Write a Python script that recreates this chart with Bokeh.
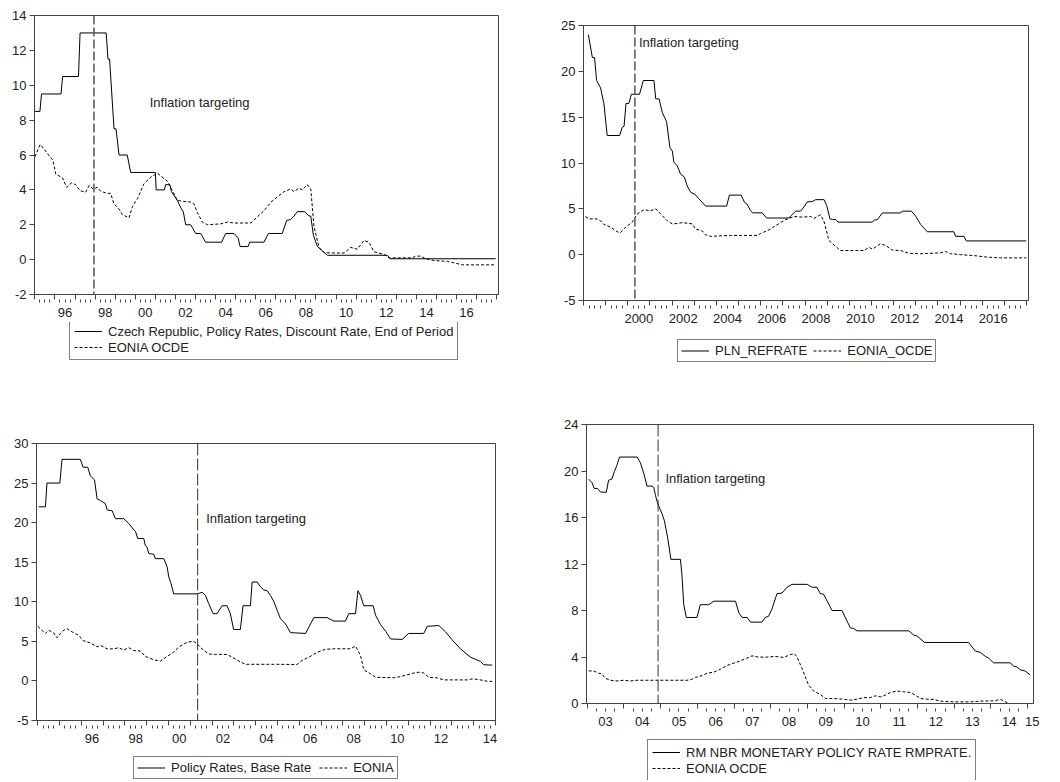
from bokeh.plotting import figure
from bokeh.models import Range1d, FixedTicker, LinearAxis, Span, Label, Legend, LegendItem
from bokeh.layouts import column, row
from bokeh.embed import file_html
from bokeh.resources import INLINE

FONT = "Liberation Sans"
TXT = "#222222"
FRAME = "#444444"

# ---------------- data (decimal year, percent) ----------------
czech_rate = [(1995.0, 8.5), (1995.25, 8.5), (1995.33, 9.5), (1996.30, 9.5), (1996.38, 10.5),
              (1997.17, 10.5), (1997.25, 13.0), (1998.55, 13.0), (1998.64, 11.5), (1998.72, 11.5),
              (1998.94, 7.5), (1999.04, 7.5), (1999.19, 6.0), (1999.60, 6.0), (1999.77, 5.0),
              (2001.0, 5.0), (2001.04, 4.0), (2001.45, 4.0), (2001.51, 4.3), (2001.72, 4.3),
              (2001.80, 3.9), (2002.09, 3.4), (2002.30, 2.9), (2002.39, 2.75), (2002.51, 2.0),
              (2002.76, 2.0), (2003.01, 1.5), (2003.26, 1.5), (2003.50, 1.0), (2004.30, 1.0),
              (2004.50, 1.5), (2004.92, 1.5), (2005.12, 1.25), (2005.22, 0.75), (2005.62, 0.75),
              (2005.70, 1.0), (2006.41, 1.0), (2006.63, 1.5), (2007.32, 1.5), (2007.54, 2.25),
              (2007.74, 2.3), (2007.91, 2.5), (2008.07, 2.75), (2008.44, 2.75), (2008.65, 2.5),
              (2008.74, 2.5), (2008.87, 1.4), (2009.07, 0.75), (2009.32, 0.5), (2009.57, 0.25),
              (2012.56, 0.25), (2012.69, 0.05), (2017.95, 0.05)]
eonia_cz = [(1995.0, 5.9), (1995.26, 6.6), (1995.45, 6.35), (1995.70, 5.97), (1995.90, 5.7),
            (1996.04, 4.9), (1996.37, 4.7), (1996.58, 4.15), (1996.82, 4.4), (1997.03, 4.3),
            (1997.25, 3.95), (1997.53, 3.87), (1997.70, 4.25), (1997.91, 4.05), (1998.11, 4.15),
            (1998.28, 3.92), (1998.61, 3.8), (1998.77, 3.8), (1998.94, 3.2), (1999.19, 2.9),
            (1999.36, 2.57), (1999.69, 2.4), (1999.86, 3.05), (2000.11, 3.5), (2000.43, 4.35),
            (2000.77, 4.73), (2001.10, 4.96), (2001.27, 4.8), (2001.60, 4.5), (2001.76, 4.15),
            (2002.09, 3.4), (2002.34, 3.35), (2002.76, 3.3), (2002.92, 3.2), (2003.09, 2.7),
            (2003.34, 2.15), (2003.59, 2.0), (2004.25, 2.05), (2004.59, 2.15), (2004.92, 2.1),
            (2005.75, 2.1), (2006.08, 2.45), (2006.41, 2.8), (2006.76, 3.3), (2007.08, 3.6),
            (2007.41, 3.9), (2007.74, 4.05), (2007.91, 3.9), (2008.15, 4.1), (2008.32, 4.0),
            (2008.57, 4.3), (2008.74, 4.05), (2008.90, 1.9), (2009.15, 0.7), (2009.40, 0.4),
            (2009.90, 0.38), (2010.40, 0.38), (2010.73, 0.7), (2011.06, 0.6), (2011.39, 1.1),
            (2011.64, 1.0), (2011.89, 0.45), (2012.39, 0.3), (2012.64, 0.1), (2013.80, 0.1),
            (2013.96, 0.2), (2014.21, 0.2), (2014.46, 0.05), (2014.88, -0.05), (2015.54, -0.1),
            (2016.12, -0.25), (2016.29, -0.3), (2017.95, -0.3)]

pln_refrate = [(1998.22, 24.0), (1998.40, 21.5), (1998.50, 21.5), (1998.59, 19.0), (1998.77, 18.2),
               (1998.92, 16.5), (1999.07, 13.0), (1999.63, 13.0), (1999.75, 13.9), (1999.83, 14.0),
               (1999.92, 16.5), (2000.05, 16.5), (2000.16, 17.5), (2000.53, 17.5), (2000.70, 19.0),
               (2001.18, 19.0), (2001.26, 17.0), (2001.41, 17.0), (2001.56, 15.5), (2001.75, 14.5),
               (2001.90, 11.7), (2002.01, 11.3), (2002.08, 10.1), (2002.23, 9.7), (2002.38, 8.8),
               (2002.56, 8.45), (2002.68, 7.5), (2002.84, 6.8), (2003.02, 6.6), (2003.21, 6.1),
               (2003.51, 5.3), (2004.46, 5.3), (2004.59, 6.5), (2005.12, 6.5), (2005.27, 5.7),
               (2005.39, 5.5), (2005.54, 4.8), (2005.64, 4.56), (2006.06, 4.56), (2006.27, 4.0),
               (2007.27, 4.0), (2007.35, 4.2), (2007.58, 4.75), (2007.80, 4.75), (2007.95, 5.2),
               (2008.10, 5.76), (2008.33, 5.8), (2008.48, 6.0), (2008.86, 6.0), (2008.98, 5.36),
               (2009.13, 3.9), (2009.24, 3.84), (2009.39, 3.84), (2009.49, 3.55), (2011.04, 3.55),
               (2011.14, 3.8), (2011.26, 3.8), (2011.49, 4.55), (2012.32, 4.55), (2012.39, 4.75),
               (2012.80, 4.75), (2013.00, 4.2), (2013.22, 3.3), (2013.52, 2.5), (2014.72, 2.5),
               (2014.80, 2.0), (2015.18, 2.0), (2015.28, 1.5), (2017.99, 1.5)]
eonia_pl = [(1998.09, 4.16), (1998.25, 3.9), (1998.62, 3.9), (1998.77, 3.7), (1998.92, 3.3),
            (1999.22, 3.0), (1999.52, 2.5), (1999.67, 2.4), (1999.90, 3.0), (2000.20, 3.55),
            (2000.43, 4.45), (2000.73, 4.9), (2001.03, 4.8), (2001.26, 5.0), (2001.48, 4.45),
            (2001.78, 3.7), (2002.01, 3.36), (2002.23, 3.4), (2002.46, 3.5), (2002.91, 3.36),
            (2003.06, 2.8), (2003.36, 2.6), (2003.51, 2.16), (2003.74, 2.0), (2004.64, 2.1),
            (2005.84, 2.1), (2005.99, 2.3), (2006.37, 2.7), (2006.73, 3.25), (2007.11, 3.8),
            (2007.50, 4.16), (2007.88, 4.1), (2008.25, 4.16), (2008.40, 3.95), (2008.70, 4.35),
            (2008.85, 3.7), (2009.08, 1.55), (2009.38, 0.9), (2009.61, 0.45), (2010.66, 0.45),
            (2010.89, 0.8), (2011.04, 0.6), (2011.41, 1.2), (2011.64, 1.0), (2011.94, 0.5),
            (2012.32, 0.45), (2012.69, 0.15), (2013.22, 0.1), (2014.12, 0.2), (2014.35, 0.35),
            (2014.57, 0.1), (2015.02, 0.0), (2015.63, -0.1), (2016.23, -0.27), (2016.83, -0.35),
            (2017.99, -0.35)]

hu_base_rate = [(1994.05, 22.0), (1994.36, 22.0), (1994.43, 25.0), (1995.02, 25.0), (1995.12, 28.0),
                (1995.96, 28.0), (1996.09, 27.0), (1996.30, 27.0), (1996.42, 25.9), (1996.61, 25.4),
                (1996.73, 23.0), (1996.88, 22.8), (1997.11, 22.4), (1997.19, 21.6), (1997.42, 21.5),
                (1997.57, 20.5), (1997.95, 20.5), (1998.18, 19.9), (1998.38, 19.2), (1998.49, 18.9),
                (1998.59, 18.0), (1998.87, 18.0), (1998.94, 17.1), (1999.02, 16.9), (1999.10, 16.1),
                (1999.33, 16.0), (1999.40, 15.45), (1999.79, 15.45), (1999.94, 14.4), (2000.02, 13.1),
                (2000.12, 12.3), (2000.24, 11.0), (2001.31, 11.0), (2001.44, 11.1), (2001.54, 11.2),
                (2001.70, 10.8), (2001.85, 9.75), (2002.05, 8.5), (2002.23, 8.5), (2002.46, 9.5),
                (2002.69, 9.5), (2002.84, 8.5), (2002.99, 6.5), (2003.30, 6.5), (2003.42, 9.5),
                (2003.76, 9.5), (2003.84, 12.5), (2004.07, 12.5), (2004.22, 11.9), (2004.37, 11.5),
                (2004.53, 11.4), (2004.68, 10.8), (2004.84, 10.0), (2004.99, 8.9), (2005.14, 7.85),
                (2005.37, 7.2), (2005.60, 6.1), (2006.29, 6.0), (2006.44, 6.8), (2006.67, 8.0),
                (2007.28, 8.0), (2007.43, 7.77), (2007.59, 7.56), (2008.12, 7.56), (2008.27, 8.5),
                (2008.58, 8.5), (2008.69, 11.4), (2008.81, 10.8), (2008.96, 9.5), (2009.39, 9.5),
                (2009.50, 8.3), (2009.73, 7.1), (2009.97, 6.25), (2010.19, 5.3), (2010.72, 5.25),
                (2011.02, 6.0), (2011.71, 6.0), (2011.87, 6.9), (2012.40, 7.0), (2012.71, 6.2),
                (2013.01, 5.2), (2013.39, 4.06), (2013.85, 3.0), (2014.31, 2.46), (2014.46, 2.04),
                (2014.85, 2.0)]
eonia_hu = [(1994.01, 6.9), (1994.20, 6.4), (1994.36, 6.0), (1994.51, 6.4), (1994.74, 6.05),
            (1994.89, 5.45), (1995.05, 6.0), (1995.20, 6.4), (1995.35, 6.6), (1995.58, 6.2),
            (1995.89, 5.75), (1996.09, 5.1), (1996.42, 4.8), (1996.73, 4.3), (1996.88, 4.5),
            (1997.19, 4.05), (1997.49, 4.05), (1997.72, 4.2), (1997.95, 3.9), (1998.18, 4.2),
            (1998.41, 3.84), (1998.72, 3.77), (1998.94, 3.1), (1999.33, 2.67), (1999.63, 2.5),
            (1999.94, 3.1), (2000.24, 3.64), (2000.47, 4.27), (2000.86, 4.9), (2001.16, 5.0),
            (2001.31, 4.7), (2001.54, 4.05), (2001.85, 3.4), (2002.16, 3.35), (2002.69, 3.35),
            (2002.92, 3.0), (2003.30, 2.4), (2003.53, 2.1), (2004.53, 2.1), (2004.99, 2.1),
            (2005.60, 2.08), (2005.90, 2.08), (2006.13, 2.6), (2006.44, 3.0), (2006.82, 3.6),
            (2007.20, 4.0), (2007.59, 4.06), (2008.05, 4.06), (2008.35, 4.06), (2008.58, 4.4),
            (2008.81, 3.2), (2008.96, 1.4), (2009.27, 0.9), (2009.50, 0.46), (2010.34, 0.4),
            (2010.64, 0.55), (2010.87, 0.7), (2011.25, 1.0), (2011.48, 1.1), (2011.71, 1.0),
            (2011.94, 0.46), (2012.33, 0.38), (2012.63, 0.13), (2013.70, 0.13), (2013.93, 0.25),
            (2014.16, 0.2), (2014.47, 0.05), (2014.62, -0.05), (2014.85, -0.05)]

ro_rmprate = [(2003.04, 19.3), (2003.13, 19.0), (2003.19, 18.5), (2003.28, 18.5), (2003.36, 18.2),
              (2003.52, 18.16), (2003.58, 19.2), (2003.67, 19.3), (2003.74, 19.95), (2003.81, 20.5),
              (2003.88, 21.2), (2004.36, 21.2), (2004.45, 20.7), (2004.54, 19.8), (2004.63, 18.7),
              (2004.76, 18.7), (2004.81, 18.6), (2004.86, 17.9), (2004.92, 17.2), (2005.04, 16.3),
              (2005.10, 15.75), (2005.19, 14.3), (2005.28, 12.4), (2005.54, 12.4), (2005.58, 11.1),
              (2005.63, 8.5), (2005.70, 7.4), (2005.99, 7.4), (2006.08, 8.5), (2006.31, 8.5),
              (2006.45, 8.8), (2007.04, 8.8), (2007.13, 7.8), (2007.22, 7.4), (2007.36, 7.4),
              (2007.45, 7.0), (2007.76, 7.0), (2007.85, 7.4), (2007.94, 7.5), (2008.03, 8.1),
              (2008.17, 9.45), (2008.31, 9.5), (2008.44, 10.0), (2008.58, 10.25), (2008.99, 10.25),
              (2009.13, 10.0), (2009.26, 10.0), (2009.35, 9.45), (2009.44, 9.4), (2009.67, 8.0),
              (2009.94, 8.0), (2010.17, 6.5), (2010.26, 6.45), (2010.35, 6.25), (2011.76, 6.25),
              (2011.89, 5.9), (2011.99, 5.8), (2012.19, 5.25), (2013.39, 5.25), (2013.58, 4.5),
              (2013.71, 4.4), (2013.85, 4.05), (2013.94, 3.9), (2014.07, 3.5), (2014.53, 3.5),
              (2014.62, 3.2), (2014.71, 3.15), (2014.80, 2.9), (2014.93, 2.8), (2015.07, 2.46)]
eonia_ro = [(2003.04, 2.8), (2003.18, 2.8), (2003.31, 2.6), (2003.40, 2.55), (2003.49, 2.17),
            (2003.63, 2.0), (2003.81, 1.94), (2003.99, 2.0), (2004.17, 1.94), (2004.36, 2.0),
            (2004.81, 2.0), (2005.72, 2.0), (2005.85, 2.08), (2005.95, 2.25), (2006.13, 2.4),
            (2006.26, 2.6), (2006.45, 2.7), (2006.63, 2.95), (2006.81, 3.27), (2006.99, 3.47),
            (2007.17, 3.67), (2007.35, 3.9), (2007.49, 4.1), (2007.67, 3.99), (2007.90, 3.99),
            (2008.12, 4.05), (2008.35, 3.96), (2008.53, 4.2), (2008.64, 4.28), (2008.71, 4.05),
            (2008.85, 3.03), (2009.03, 1.6), (2009.17, 1.07), (2009.35, 0.78), (2009.49, 0.43),
            (2009.72, 0.43), (2009.99, 0.37), (2010.17, 0.29), (2010.35, 0.37), (2010.53, 0.5),
            (2010.71, 0.5), (2010.85, 0.66), (2010.99, 0.57), (2011.12, 0.72), (2011.26, 0.95),
            (2011.44, 1.07), (2011.62, 1.01), (2011.80, 0.95), (2011.94, 0.72), (2012.08, 0.43),
            (2012.26, 0.37), (2012.44, 0.35), (2012.62, 0.2), (2012.99, 0.14), (2013.44, 0.14),
            (2013.71, 0.2), (2014.07, 0.23), (2014.26, 0.35), (2014.35, 0.23), (2014.48, 0.0),
            (2014.71, -0.05), (2014.89, 0.0)]

# tick labels
p1_labels = {1996.5: "96", 1998.5: "98", 2000.5: "00", 2002.5: "02", 2004.5: "04", 2006.5: "06",
             2008.5: "08", 2010.5: "10", 2012.5: "12", 2014.5: "14", 2016.5: "16"}
p2_labels = {2000.5: "2000", 2002.5: "2002", 2004.5: "2004", 2006.5: "2006", 2008.5: "2008",
             2010.5: "2010", 2012.5: "2012", 2014.5: "2014", 2016.5: "2016"}
p3_labels = {1996.5: "96", 1998.5: "98", 2000.5: "00", 2002.5: "02", 2004.5: "04", 2006.5: "06",
             2008.5: "08", 2010.5: "10", 2012.5: "12", 2014.75: "14"}
p4_labels = {2003.5: "03", 2004.5: "04", 2005.5: "05", 2006.5: "06", 2007.5: "07", 2008.5: "08",
             2009.5: "09", 2010.5: "10", 2011.5: "11", 2012.5: "12", 2013.5: "13", 2014.5: "14",
             2015.125: "15"}


def xs(pts):
    return [a for a, b in pts]


def ys(pts):
    return [b for a, b in pts]


def chart(width, height, borders, xr, yr, yticks, labels, series, it_year, it_text_pos, vline_style):
    bl, br, bt, bb = borders
    p = figure(width=width, height=height, x_range=Range1d(*xr), y_range=Range1d(*yr),
               output_backend="svg", toolbar_location=None, x_axis_type=None, y_axis_type=None,
               title=None,
               min_border_left=bl, min_border_right=br, min_border_top=bt, min_border_bottom=bb)
    p.outline_line_color = FRAME
    p.outline_line_width = 1
    p.outline_line_alpha = 1
    p.background_fill_color = "white"
    p.border_fill_color = "white"

    ya = LinearAxis(ticker=FixedTicker(ticks=yticks, minor_ticks=[]))
    ya.major_label_overrides = {t: str(t) for t in yticks if t < 0}
    ya.major_tick_out = 5
    ya.major_tick_in = 0
    ya.minor_tick_out = 0
    ya.major_label_standoff = 3
    ya.axis_line_color = FRAME
    ya.major_tick_line_color = FRAME
    ya.major_label_text_font = FONT
    ya.major_label_text_font_size = "13px"
    ya.major_label_text_color = TXT
    p.add_layout(ya, "left")

    y0 = int(xr[0])
    y1 = int(xr[1]) + 1
    years = [float(y) for y in range(y0, y1 + 1) if xr[0] <= y <= xr[1]]
    quarters = [y + q for y in range(y0, y1 + 1) for q in (0.25, 0.5, 0.75) if xr[0] <= y + q <= xr[1]]

    # year-start ticks (longer), no labels
    xa = LinearAxis(ticker=FixedTicker(ticks=[], minor_ticks=years))
    xa.major_tick_out = 0
    xa.major_tick_in = 0
    xa.minor_tick_out = 5
    xa.minor_tick_in = 0
    xa.major_label_standoff = 0
    xa.axis_line_color = FRAME
    xa.minor_tick_line_color = FRAME
    p.add_layout(xa, "below")

    # quarter ticks (short) and year labels centred on the year
    xl = LinearAxis(ticker=FixedTicker(ticks=list(labels.keys()), minor_ticks=quarters))
    xl.major_label_overrides = labels
    xl.major_tick_out = 0
    xl.major_tick_in = 0
    xl.minor_tick_out = 3
    xl.minor_tick_in = 0
    xl.axis_line_color = None
    xl.major_tick_line_color = None
    xl.minor_tick_line_color = FRAME
    xl.major_label_standoff = 5
    xl.major_label_text_font = FONT
    xl.major_label_text_font_size = "13px"
    xl.major_label_text_color = TXT
    p.add_layout(xl, "below")

    solid, dashed = series
    p.line(xs(solid), ys(solid), line_color="black", line_width=1)
    p.line(xs(dashed), ys(dashed), line_color="black", line_width=1, line_dash="3 2")

    col, lw, dash = vline_style
    p.add_layout(Span(location=it_year, dimension="height", line_color=col, line_width=lw,
                      line_dash=dash))
    p.add_layout(Label(x=it_text_pos[0], y=it_text_pos[1], text="Inflation targeting",
                       text_font=FONT, text_font_size="13px", text_color=TXT,
                       text_baseline="middle", text_align="left"))
    return p


def legend_box(width, height, names, series, loc, orient, spacing, padding, label_h, glyph_w):
    # legend strip under the chart; its data range lies outside this strip so only the key shows
    f = figure(width=width, height=height, x_range=Range1d(0, 1), y_range=Range1d(0, 1),
               output_backend="svg", toolbar_location=None, x_axis_type=None, y_axis_type=None,
               title=None, min_border=0, min_border_left=0, min_border_right=0,
               min_border_top=0, min_border_bottom=0)
    f.outline_line_color = None
    f.background_fill_color = "white"
    f.border_fill_color = "white"
    solid, dashed = series
    r1 = f.line(xs(solid), ys(solid), line_color="black", line_width=1)
    r2 = f.line(xs(dashed), ys(dashed), line_color="black", line_width=1, line_dash="3 2")
    leg = Legend(items=[LegendItem(label=names[0], renderers=[r1]),
                        LegendItem(label=names[1], renderers=[r2])],
                 location=loc, orientation=orient)
    leg.border_line_color = "black"
    leg.border_line_width = 1
    leg.background_fill_color = "white"
    leg.background_fill_alpha = 1
    leg.label_text_font = FONT
    leg.label_text_font_size = "13px"
    leg.label_text_color = TXT
    leg.glyph_width = glyph_w
    leg.glyph_height = label_h
    leg.label_height = label_h
    leg.label_standoff = 6
    leg.padding = padding
    leg.spacing = spacing
    leg.margin = 0
    f.add_layout(leg)
    return f


p1 = chart(520, 322, (34, 22, 15, 28), (1994.98, 2018.09), (-2, 14), list(range(-2, 15, 2)),
           p1_labels, (czech_rate, eonia_cz), 1997.94, (2000.72, 9.0), ("#555555", 1.5, "9 3"))
l1 = legend_box(520, 78, ("Czech Republic, Policy Rates, Discount Rate, End of Period", "EONIA OCDE"),
                (czech_rate, eonia_cz), (35, 40), "vertical", 0, 4, 16, 28)

p2 = chart(538, 328, (63, 30, 25, 28), (1998.0, 2018.09), (-5, 25), list(range(-5, 26, 5)),
           p2_labels, (pln_refrate, eonia_pl), 2000.32, (2000.50, 23.1), ("#555555", 1.5, "9 3"))
l2 = legend_box(538, 72, ("PLN_REFRATE", "EONIA_OCDE"), (pln_refrate, eonia_pl),
                (94, 38), "horizontal", 6, 3, 15, 28)

p3 = chart(520, 348, (36, 25, 43, 28), (1993.95, 2015.0), (-5, 30), list(range(-5, 31, 5)),
           p3_labels, (hu_base_rate, eonia_hu), 2001.34, (2001.73, 20.5), ("#333333", 1, "12 3"))
l3 = legend_box(520, 32, ("Policy Rates, Base Rate", "EONIA"), (hu_base_rate, eonia_hu),
                (97, 1), "horizontal", 8, 3, 15, 28)

p4 = chart(538, 331, (66, 25, 24, 28), (2002.98, 2015.16), (0, 24), list(range(0, 25, 4)),
           p4_labels, (ro_rmprate, eonia_ro), 2004.93, (2005.13, 19.37), ("#333333", 1, "12 3"))
l4 = legend_box(538, 49, ("RM NBR MONETARY POLICY RATE RMPRATE.", "EONIA OCDE"),
                (ro_rmprate, eonia_ro), (61, -1), "vertical", 0, 4, 16, 28)

layout = column(row(column(p1, l1), column(p2, l2)), row(column(p3, l3), column(p4, l4)))
open("out.html", "w").write(file_html(layout, INLINE))
